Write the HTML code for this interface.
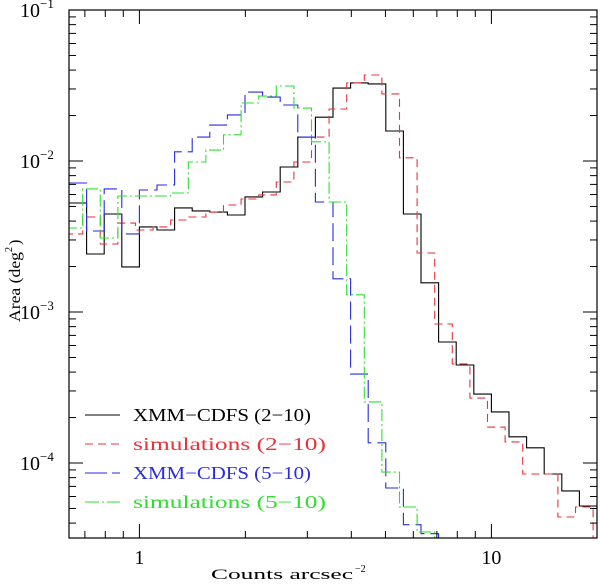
<!DOCTYPE html>
<html><head><meta charset="utf-8"><style>
body{margin:0;background:#fff}
svg text{font-family:"Liberation Serif","DejaVu Serif",serif}
</style></head><body>
<svg id="chart" width="600" height="583" viewBox="0 0 600 583" xmlns="http://www.w3.org/2000/svg">
<rect width="600" height="583" fill="#fff"/>
<g id="series"></g>
<g id="axes"></g>
<rect x="69" y="10" width="528" height="528" fill="none" stroke="#000" stroke-width="1.2"/>
<g id="legend"></g>
<text x="211" y="579" font-size="15" textLength="142" lengthAdjust="spacingAndGlyphs">Counts arcsec</text>
<text x="355" y="572" font-size="10">−2</text>
<text transform="translate(20,322) rotate(-90)" font-size="16" textLength="70" lengthAdjust="spacingAndGlyphs">Area (deg</text>
<text transform="translate(12,252) rotate(-90)" font-size="10">2</text>
<text transform="translate(20,245) rotate(-90)" font-size="16">)</text>
</svg>
<script>
// data: bin edges in log10(counts arcsec^-2), 0.05 dex bins
const binStartBlue = -0.2;      // first edge, XMM-CDFS series
const binStartSim = -0.211;     // first edge, simulation series
const binWidth = 0.05;
const xmm210 = [5.27e-3,2.42e-3,4.46e-3,1.99e-3,3.66e-3,3.49e-3,4.89e-3,4.67e-3,4.59e-3,4.39e-3,5.78e-3,6.23e-3,9.12e-3,1.44e-2,1.95e-2,3.04e-2,3.29e-2,3.24e-2,1.58e-2,4.46e-3,1.56e-3,6.33e-4,4.46e-4,2.86e-4,2.18e-4,1.49e-4,1.26e-4,8.45e-5,6.53e-5,5.19e-5];
const sim210 = [3.29e-3,4.26e-3,2.82e-3,3.88e-3,3.49e-3,3.66e-3,4.07e-3,4.26e-3,4.59e-3,5.11e-3,5.60e-3,5.96e-3,7.26e-3,9.85e-3,1.44e-2,2.21e-2,3.29e-2,3.71e-2,2.78e-2,1.05e-2,2.46e-3,8.33e-4,4.53e-4,2.69e-4,1.73e-4,1.38e-4,8.45e-5,8.45e-5,4.39e-5,5.11e-5,2.28e-5];
const xmm510 = [7.15e-3,3.44e-3,6.53e-3,3.29e-3,6.43e-3,6.94e-3,1.15e-2,1.44e-2,1.73e-2,2.02e-2,2.86e-2,2.65e-2,2.35e-2,1.44e-2,5.35e-3,1.66e-3,3.88e-4,1.36e-4,6.83e-5,3.9e-5,3.4e-5,1e-5];
const sim510 = [3.60e-3,6.53e-3,3.09e-3,5.86e-3,5.86e-3,5.86e-3,6.14e-3,9.85e-3,1.18e-2,1.49e-2,2.42e-2,2.69e-2,3.14e-2,2.24e-2,1.34e-2,5.35e-3,1.30e-3,2.54e-4,8.71e-5,5.11e-5,3.49e-5,1e-5];
const legendLabels = ["XMM\u2212CDFS (2\u221210)","simulations (2\u221210)","XMM\u2212CDFS (5\u221210)","simulations (5\u221210)"];
const legendWidths = [178,193,178,193];
const xTickLabels = ["1","10"];
const yTickLabels = ["−1","−2","−3","−4"];

const NS="http://www.w3.org/2000/svg";
const L=69,R=597,T=10,B=538;
const xLogMin=-0.2,xLogMax=1.3,yLogMax=-1,yLogMin=-1-(B-T)/151;
function xPix(lv){return L+(lv-xLogMin)/(xLogMax-xLogMin)*(R-L);}
function yPix(v){return T+(yLogMax-Math.log10(v))/(yLogMax-yLogMin)*(B-T);}
function mk(tag,attrs,parent){const e=document.createElementNS(NS,tag);for(const k in attrs)e.setAttribute(k,attrs[k]);parent.appendChild(e);return e;}

const defs=mk('defs',{},document.getElementById('chart'));
const cp=mk('clipPath',{id:'clip'},defs);mk('rect',{x:L,y:T,width:R-L,height:B-T},cp);
const sg=document.getElementById('series');sg.setAttribute('clip-path','url(#clip)');
function stepPath(vals,start){
  let d='';
  vals.forEach((v,i)=>{const x0=xPix(start+i*binWidth),x1=xPix(start+(i+1)*binWidth),y=yPix(v);
    d+=(i===0?'M':'L')+x0.toFixed(1)+','+y.toFixed(1)+'L'+x1.toFixed(1)+','+y.toFixed(1);});
  return d;
}
const series=[
 {vals:xmm210,start:binStartBlue,color:'#000',dash:'',name:'xmm-cdfs-2-10-line'},
 {vals:sim210,start:binStartSim,color:'#e8333a',dash:'8,5',name:'simulations-2-10-line'},
 {vals:xmm510,start:binStartBlue,color:'#2a2ae0',dash:'18,6',name:'xmm-cdfs-5-10-line'},
 {vals:sim510,start:binStartSim,color:'#2ee02e',dash:'12,3,2,3',name:'simulations-5-10-line'}
];
series.forEach(s=>{
  const p=mk('path',{d:stepPath(s.vals,s.start),fill:'none',stroke:s.color,'stroke-width':1.1,'stroke-dasharray':s.dash},sg);
  
  
});

const ag=document.getElementById('axes');
for(let dec=-1;dec<=1;dec++){for(let m=1;m<=9;m++){
  const lv=dec+Math.log10(m);if(lv<xLogMin-1e-9||lv>xLogMax+1e-9)continue;
  const x=xPix(lv),len=m===1?14:7;
  mk('line',{x1:x,y1:B,x2:x,y2:B-len,stroke:'#000','stroke-width':1},ag);
  mk('line',{x1:x,y1:T,x2:x,y2:T+len,stroke:'#000','stroke-width':1},ag);
}}
xTickLabels.forEach((t,i)=>{const t1=mk('text',{x:xPix(i),y:564,'font-size':20,'text-anchor':'middle'},ag);t1.textContent=t;
  
  });
for(let dec=-5;dec<=-1;dec++){for(let m=1;m<=9;m++){
  const v=m*Math.pow(10,dec);const lv=Math.log10(v);if(lv<yLogMin||lv>yLogMax+1e-9)continue;
  const y=yPix(v),len=m===1?14:7;
  mk('line',{x1:L,y1:y,x2:L+len,y2:y,stroke:'#000','stroke-width':1},ag);
  mk('line',{x1:R,y1:y,x2:R-len,y2:y,stroke:'#000','stroke-width':1},ag);
}}
yTickLabels.forEach((t,i)=>{const y=yPix(Math.pow(10,-1-i));
  const tx=mk('text',{x:20,y:y+7,'font-size':20},ag);
  
  
  tx.appendChild(document.createTextNode('10'));
  const sp=mk('tspan',{dy:-9,'font-size':13},tx);sp.textContent=t;});
const lg=document.getElementById('legend');
series.forEach((s,i)=>{const y=415+i*29;
  const ln=mk('line',{x1:85,y1:y,x2:120,y2:y,stroke:s.color,'stroke-width':1.1,'stroke-dasharray':s.dash==='18,6'?'22,5,8,0':(s.dash==='12,3,2,3'?'14,3,2,3':s.dash)},lg);
  
  
  const tx=mk('text',{x:133,y:y+6,'font-size':18,fill:s.color,textLength:legendWidths[i],lengthAdjust:'spacingAndGlyphs'},lg);tx.textContent=legendLabels[i];
  
  
});
</script>
</body></html>
